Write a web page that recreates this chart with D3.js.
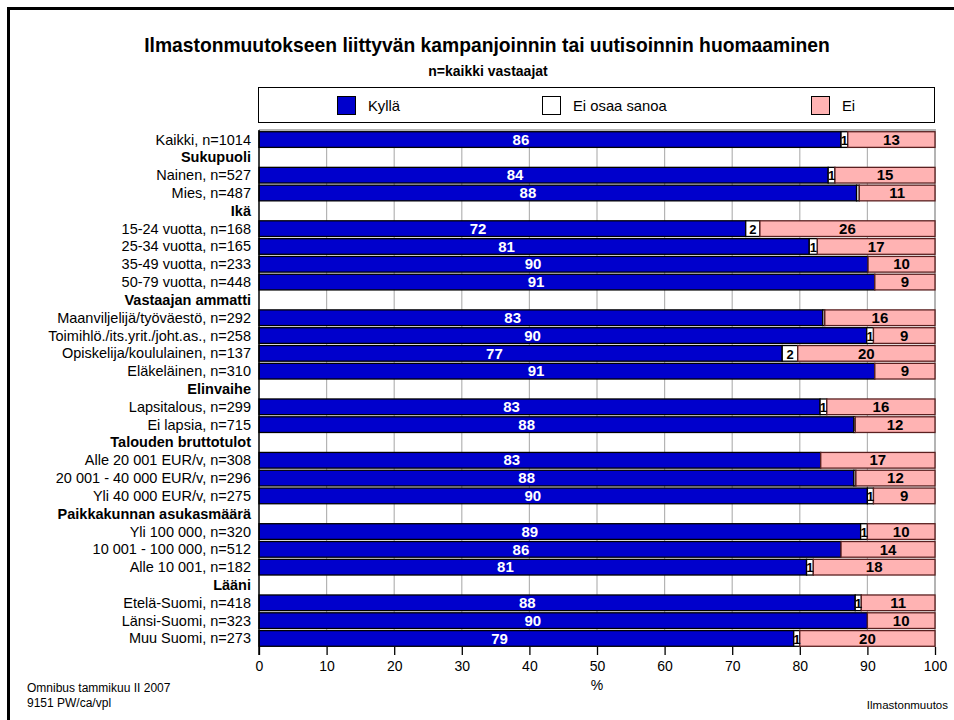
<!DOCTYPE html>
<html>
<head>
<meta charset="utf-8">
<script src="https://cdn.jsdelivr.net/npm/d3@7"></script>
<style>
  html, body { margin: 0; padding: 0; background: #fff; }
  svg { display: block; font-family: "Liberation Sans", Arial, sans-serif; }
</style>
</head>
<body>
<svg id="chart" width="954" height="720"></svg>
<script>
// ---------- data ----------
const categories = [
  "Kaikki, n=1014", "Sukupuoli", "Nainen, n=527", "Mies, n=487", "Ikä",
  "15-24 vuotta, n=168", "25-34 vuotta, n=165", "35-49 vuotta, n=233", "50-79 vuotta, n=448",
  "Vastaajan ammatti", "Maanviljelijä/työväestö, n=292", "Toimihlö./its.yrit./joht.as., n=258",
  "Opiskelija/koululainen, n=137", "Eläkeläinen, n=310", "Elinvaihe",
  "Lapsitalous, n=299", "Ei lapsia, n=715", "Talouden bruttotulot",
  "Alle 20 001 EUR/v, n=308", "20 001 - 40 000 EUR/v, n=296", "Yli 40 000 EUR/v, n=275",
  "Paikkakunnan asukasmäärä", "Yli 100 000, n=320", "10 001 - 100 000, n=512", "Alle 10 001, n=182",
  "Lääni", "Etelä-Suomi, n=418", "Länsi-Suomi, n=323", "Muu Suomi, n=273"
];
const headers = ["Sukupuoli", "Ikä", "Vastaajan ammatti", "Elinvaihe", "Talouden bruttotulot",
  "Paikkakunnan asukasmäärä", "Lääni"];
// values per row (null for group headers)
const kylla = [86.1, null, 84.2, 88.4, null, 72.0, 81.4, 90.1, 91.1, null, 83.4, 89.9, 77.4, 91.1, null,
  83.0, 88.0, null, 83.1, 88.0, 90.0, null, 89.0, 86.1, 81.0, null, 88.2, 90.0, 79.1];
const eiOsaa = [1.0, null, 1.0, 0.4, null, 2.1, 1.2, 0.0, 0.0, null, 0.3, 1.0, 2.3, 0.0, null,
  1.0, 0.2, null, 0.0, 0.3, 0.9, null, 1.0, 0.0, 1.0, null, 0.9, 0.0, 0.9];
const ei = [12.9, null, 14.8, 11.2, null, 25.9, 17.4, 9.9, 8.9, null, 16.3, 9.1, 20.3, 8.9, null,
  16.0, 11.8, null, 16.9, 11.7, 9.1, null, 10.0, 13.9, 18.0, null, 10.9, 10.0, 20.0];
const seriesNames = ["Kyllä", "Ei osaa sanoa", "Ei"];
const xTicks = [0, 10, 20, 30, 40, 50, 60, 70, 80, 90, 100];

// ---------- layout ----------
const colors = { "Kyllä": "#0000cc", "Ei osaa sanoa": "#ffffff", "Ei": "#ffb3b3" };
const strokes = { "Kyllä": "#000000", "Ei osaa sanoa": "#000000", "Ei": "#5a2020" };
const svg = d3.select("#chart");
const plotL = 259, plotR = 935, plotT = 130, plotB = 647;

const x = d3.scaleLinear().domain([0, 100]).range([plotL, plotR]);
const y = d3.scaleBand().domain(d3.range(categories.length)).range([plotT + 1, plotB]).paddingInner(0.12).paddingOuter(0.04);

// outer frame (left & top visible)
svg.append("path").attr("d", "M8.5,722 L8.5,8.5 L960,8.5").attr("fill", "none").attr("stroke", "#000").attr("stroke-width", 3);

// titles
svg.append("text").attr("x", 487).attr("y", 52).attr("text-anchor", "middle")
  .attr("font-size", 19.3).attr("font-weight", "bold").text("Ilmastonmuutokseen liittyvän kampanjoinnin tai uutisoinnin huomaaminen");
svg.append("text").attr("x", 488).attr("y", 76).attr("text-anchor", "middle")
  .attr("font-size", 14).attr("font-weight", "bold").text("n=kaikki vastaajat");

// legend
svg.append("rect").attr("x", 258.5).attr("y", 87.5).attr("width", 676).attr("height", 35)
  .attr("fill", "#fff").attr("stroke", "#000");
const legendX = [337, 542, 811];
seriesNames.forEach((s, i) => {
  svg.append("rect").attr("x", legendX[i] + 0.5).attr("y", 96.5).attr("width", 18).attr("height", 18)
    .attr("fill", colors[s]).attr("stroke", "#000");
  svg.append("text").attr("x", legendX[i] + 31).attr("y", 111).attr("font-size", 14.8).text(s);
});

// grid
svg.append("g").selectAll("line").data(xTicks.slice(1)).join("line")
  .attr("x1", d => x(d)).attr("x2", d => x(d)).attr("y1", plotT).attr("y2", plotB)
  .attr("stroke", "#b4b4b4").attr("stroke-width", d => d === 100 ? 2 : 1.2);
svg.append("line").attr("x1", plotL).attr("x2", plotR + 1).attr("y1", plotT).attr("y2", plotT)
  .attr("stroke", "#b4b4b4").attr("stroke-width", 2);

// bars
const rows = categories.map((c, i) => ({ i, c, vals: [kylla[i], eiOsaa[i], ei[i]] }));
const segs = [];
rows.forEach(r => {
  if (r.vals[0] == null) return;
  let acc = 0;
  r.vals.forEach((v, k) => {
    segs.push({ i: r.i, s: seriesNames[k], x0: acc, x1: acc + v, v });
    acc += v;
  });
});
const barG = svg.append("g");
barG.selectAll("rect").data(segs.filter(d => d.v > 0)).join("rect")
  .attr("x", d => x(d.x0)).attr("y", d => y(d.i))
  .attr("width", d => x(d.x1) - x(d.x0)).attr("height", y.bandwidth())
  .attr("fill", d => colors[d.s]).attr("stroke", d => strokes[d.s]).attr("stroke-width", 1.3);

// value labels
barG.selectAll("text").data(segs.filter(d => Math.round(d.v) >= 1)).join("text")
  .attr("x", d => {
    const w = x(d.x1) - x(d.x0);
    return d.s === "Kyllä" ? x(d.x0) + w * 0.45 : x(d.x0) + w / 2;
  })
  .attr("y", d => y(d.i) + y.bandwidth() / 2 + 5.2)
  .attr("text-anchor", "middle").attr("font-size", d => d.s === "Ei osaa sanoa" ? 13 : 15).attr("font-weight", "bold")
  .attr("fill", d => d.s === "Kyllä" ? "#fff" : "#000")
  .text(d => Math.round(d.v));

// left axis line
svg.append("line").attr("x1", plotL).attr("x2", plotL).attr("y1", plotT).attr("y2", plotB + 8)
  .attr("stroke", "#000").attr("stroke-width", 1.5);

// category labels
svg.append("g").selectAll("text").data(rows).join("text")
  .attr("x", 251).attr("y", d => y(d.i) + y.bandwidth() / 2 + 5)
  .attr("text-anchor", "end").attr("font-size", 14.5)
  .attr("font-weight", d => headers.includes(d.c) ? "bold" : "normal")
  .text(d => d.c);

// x axis
const xAxis = d3.axisBottom(x).tickValues(xTicks).tickSize(8).tickPadding(6).tickFormat(d3.format("d"));
const gx = svg.append("g").attr("transform", `translate(0,${plotB})`).call(xAxis);
gx.select(".domain").remove();
gx.selectAll(".tick line").attr("stroke", "#000").attr("stroke-width", 1.3);
gx.selectAll(".tick text").attr("font-size", 14).attr("font-family", "Liberation Sans, Arial, sans-serif").attr("fill", "#000");
svg.append("text").attr("x", x(50)).attr("y", 690).attr("text-anchor", "middle").attr("font-size", 14).text("%");

// footer
svg.append("text").attr("x", 27).attr("y", 692).attr("font-size", 12).text("Omnibus tammikuu II 2007");
svg.append("text").attr("x", 27).attr("y", 707).attr("font-size", 12).text("9151 PW/ca/vpl");
svg.append("text").attr("x", 948).attr("y", 709).attr("text-anchor", "end").attr("font-size", 11.5).text("Ilmastonmuutos");
</script>
</body>
</html>
